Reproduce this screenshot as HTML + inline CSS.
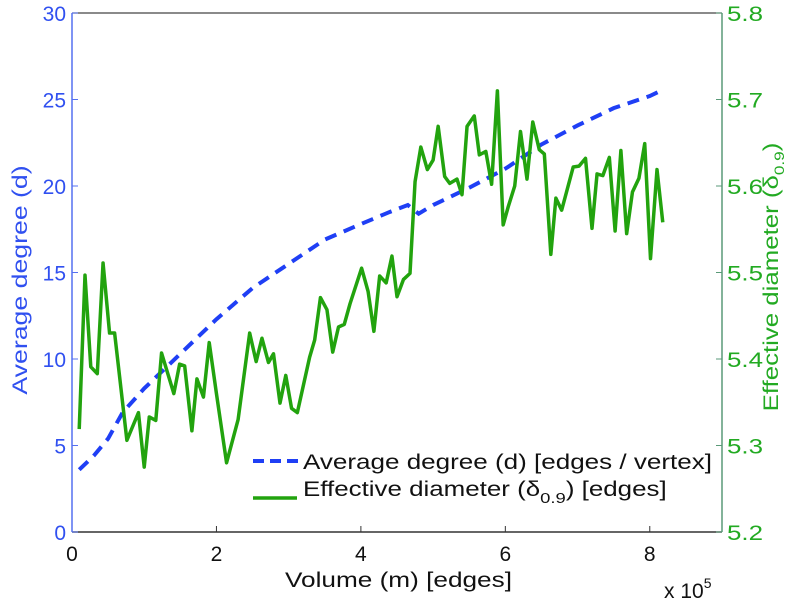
<!DOCTYPE html>
<html><head><meta charset="utf-8"><style>
body{margin:0;background:#fff;}
svg text{font-family:"Liberation Sans",sans-serif;}
</style></head><body>
<svg id="chart" width="806" height="600" xmlns="http://www.w3.org/2000/svg"></svg>
<script>
const xTicks=[0,2,4,6,8];
const leftTicks=[0,5,10,15,20,25,30];
const rightTicks=[5.2,5.3,5.4,5.5,5.6,5.7,5.8];
const degreeX=[0.1,0.3,0.5,0.7,1.0,1.5,2.0,2.5,3.0,3.5,4.0,4.4,4.65,4.8,5.0,5.5,6.0,6.5,7.0,7.5,8.0,8.2];
const degreeY=[3.6,4.4,5.4,6.9,8.3,10.3,12.3,14.1,15.5,16.9,17.8,18.5,18.9,18.4,18.9,19.9,21.0,22.4,23.5,24.5,25.2,25.6];
const diamX=[0.10,0.18,0.26,0.35,0.43,0.52,0.59,0.76,0.92,1.00,1.07,1.16,1.24,1.41,1.49,1.56,1.66,1.73,1.82,1.90,2.00,2.14,2.30,2.46,2.55,2.63,2.72,2.79,2.88,2.96,3.04,3.12,3.29,3.36,3.44,3.53,3.61,3.69,3.77,3.85,4.01,4.10,4.18,4.26,4.35,4.43,4.50,4.59,4.68,4.75,4.83,4.92,5.00,5.07,5.16,5.23,5.33,5.40,5.47,5.57,5.64,5.73,5.81,5.89,5.97,6.04,6.13,6.21,6.30,6.38,6.47,6.54,6.63,6.70,6.78,6.94,7.02,7.11,7.20,7.27,7.35,7.44,7.52,7.60,7.68,7.76,7.85,7.93,8.01,8.10,8.18];
const diamY=[5.319,5.497,5.391,5.383,5.511,5.430,5.430,5.306,5.338,5.275,5.333,5.329,5.407,5.360,5.394,5.392,5.317,5.377,5.356,5.419,5.360,5.280,5.330,5.430,5.397,5.424,5.396,5.406,5.349,5.381,5.343,5.338,5.402,5.422,5.471,5.457,5.408,5.437,5.440,5.464,5.505,5.478,5.432,5.496,5.488,5.519,5.472,5.492,5.499,5.605,5.645,5.619,5.630,5.669,5.611,5.603,5.608,5.590,5.669,5.681,5.636,5.640,5.602,5.710,5.555,5.576,5.600,5.663,5.608,5.674,5.642,5.637,5.521,5.586,5.572,5.622,5.623,5.632,5.551,5.614,5.612,5.633,5.548,5.641,5.545,5.593,5.609,5.649,5.516,5.619,5.558];

const svg=document.getElementById('chart');
const NS='http://www.w3.org/2000/svg';
const L=72,R=722,T=13,B=532;
const sx=v=>L+(v/9)*(R-L);
const syL=v=>B-(v/30)*(B-T);
const syR=v=>B-((v-5.2)/0.6)*(B-T);
function mk(tag,attrs,parent){const e=document.createElementNS(NS,tag);for(const k in attrs)e.setAttribute(k,attrs[k]);(parent||svg).appendChild(e);return e;}

const axes=mk('g',{});


const top_=mk('line',{x1:L,y1:T,x2:R,y2:T,stroke:'#444','stroke-width':1.2},axes);


const xa=mk('line',{x1:L,y1:B,x2:R,y2:B,stroke:'#333','stroke-width':1.5},axes);


xTicks.forEach(t=>{
  mk('line',{x1:sx(t),y1:B,x2:sx(t),y2:B-6,stroke:'#333'},axes);
  const tx=mk('text',{x:sx(t),y:B+29,'text-anchor':'middle','font-size':21,fill:'#111'},axes);
  tx.textContent=t;
  
  
});
const la=mk('line',{x1:L,y1:T,x2:L,y2:B,stroke:'#5570f0','stroke-width':1.5},axes);


leftTicks.forEach(t=>{
  mk('line',{x1:L,y1:syL(t),x2:L+6,y2:syL(t),stroke:'#5570f0'},axes);
  const tx=mk('text',{x:L-6,y:syL(t)+8,'text-anchor':'end','font-size':21,fill:'#3050f0'},axes);
  tx.textContent=t;
  
  
});
const ra=mk('line',{x1:R,y1:T,x2:R,y2:B,stroke:'#5a9a78','stroke-width':1.5},axes);


rightTicks.forEach(t=>{
  mk('line',{x1:R,y1:syR(t),x2:R-6,y2:syR(t),stroke:'#5a9a78'},axes);
  const tx=mk('text',{x:R+5,y:syR(t)+8,'font-size':21,fill:'#22aa22',textLength:36,lengthAdjust:'spacingAndGlyphs'},axes);
  tx.textContent=t.toFixed(1);
  
  
});
const xt=mk('text',{x:285,y:587,'font-size':21,fill:'#111',textLength:227,lengthAdjust:'spacingAndGlyphs'});
xt.textContent='Volume (m) [edges]';


const xe=mk('text',{x:664,y:598,'font-size':21,fill:'#111'});
xe.innerHTML='x 10<tspan dy="-10" font-size="14">5</tspan>';


const yl=mk('text',{transform:'translate(27,280) rotate(-90) scale(1.27,1)','text-anchor':'middle','font-size':21,fill:'#3050f0'});
yl.textContent='Average degree (d)';


const yr=mk('text',{transform:'translate(778,277) rotate(-90) scale(1.23,1)','text-anchor':'middle','font-size':21,fill:'#22aa22'});
yr.innerHTML='Effective diameter (δ<tspan dy="6" font-size="14">0.9</tspan><tspan dy="-6">)</tspan>';



const dp=mk('path',{d:degreeX.map((x,i)=>(i?'L':'M')+sx(x)+','+syL(degreeY[i])).join(''),fill:'none',stroke:'#1f3ff5','stroke-width':4,'stroke-dasharray':'12,8'});


const gp=mk('path',{d:diamX.map((x,i)=>(i?'L':'M')+sx(x)+','+syR(diamY[i])).join(''),fill:'none',stroke:'#22a30e','stroke-width':3.5,'stroke-linejoin':'round'});



const lg=mk('g',{});


mk('line',{x1:253,y1:461,x2:299,y2:461,stroke:'#1f3ff5','stroke-width':4,'stroke-dasharray':'11,6'},lg);
const l1=mk('text',{x:303,y:469,'font-size':21,fill:'#111',textLength:409,lengthAdjust:'spacingAndGlyphs'},lg);
l1.textContent='Average degree (d) [edges / vertex]';


mk('line',{x1:253,y1:498,x2:297,y2:498,stroke:'#22a30e','stroke-width':3.5},lg);
const l2=mk('text',{x:0,y:496,'font-size':21,fill:'#111',transform:'translate(303,0) scale(1.234,1)'},lg);
l2.innerHTML='Effective diameter (δ<tspan dy="7" font-size="15">0.9</tspan><tspan dy="-7">) [edges]</tspan>';


</script>
</body></html>
